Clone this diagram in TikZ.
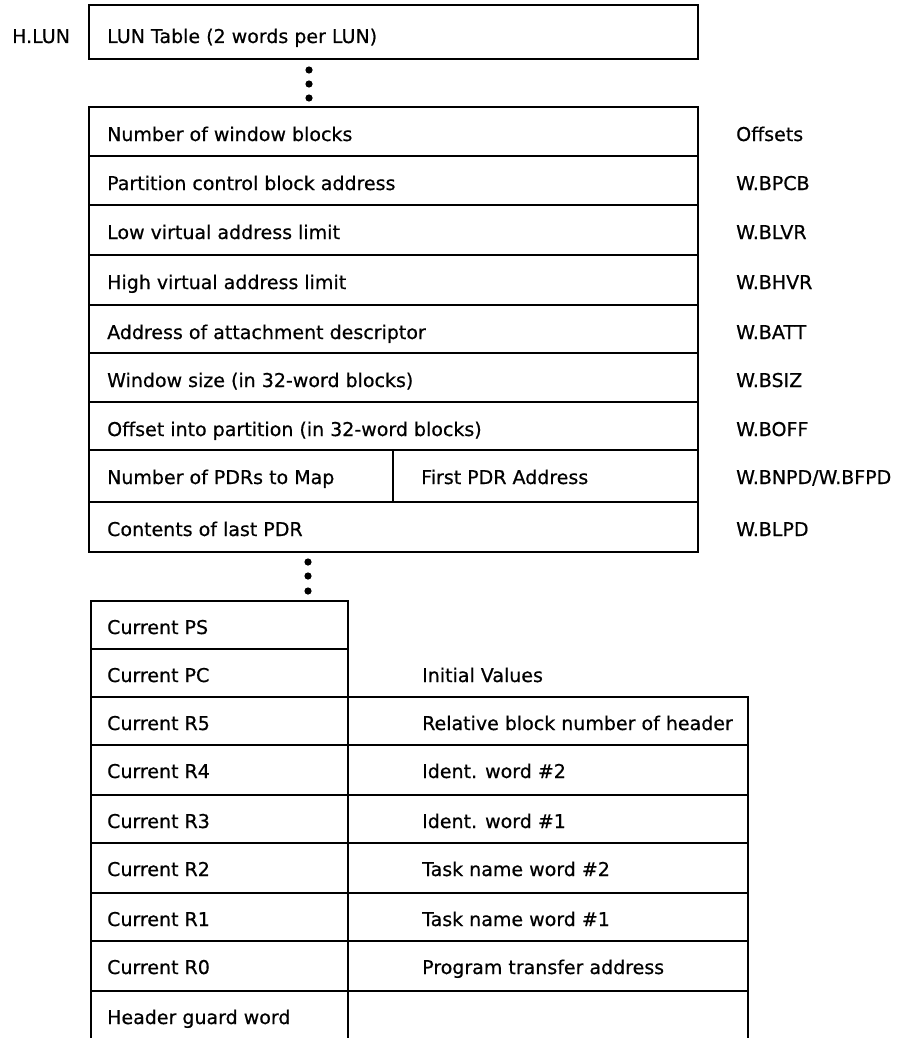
\documentclass[tikz,border=0pt]{standalone}
\usepackage{fontspec}
\setmainfont[FakeBold=0.6]{DejaVu Sans}
\begin{document}
\begin{tikzpicture}[x=1pt,y=-1pt,
  box/.style={line width=1.4pt, line join=miter},
  txt/.style={anchor=base west, inner sep=0pt, font=\fontsize{19}{22}\selectfont},
  dotmark/.style={fill=black, draw=none}]
\useasboundingbox (0,0) rectangle (909,1038);
% LUN table
\draw[box] (89,5) rectangle (698,59);
\node[txt] (hlun) at (12,43) {H.LUN};
\node[txt] (lun) at (107,43) {LUN Table (2 words per LUN)};
% dots
\foreach \yy in {70,84,98} \fill[dotmark] (309,\yy) circle (3.6pt);
% main window block
\draw[box] (89,107) rectangle (698,552);
\foreach \yy in {156,205,255,305,353,402,450,502} \draw[box] (89,\yy) -- (698,\yy);
\draw[box] (393,450) -- (393,502);
\foreach \yy/\t/\l [count=\i] in {
  107/{Number of window blocks}/{Offsets},
  156/{Partition control block address}/{W.BPCB},
  205/{Low virtual address limit}/{W.BLVR},
  255/{High virtual address limit}/{W.BHVR},
  305/{Address of attachment descriptor}/{W.BATT},
  353/{Window size (in 32-word blocks)}/{W.BSIZ},
  402/{Offset into partition (in 32-word blocks)}/{W.BOFF},
  450/{Number of PDRs to Map}/{W.BNPD/W.BFPD},
  502/{Contents of last PDR}/{W.BLPD}} {
  \node[txt] (row\i) at (107,\yy+34) {\t};
  \node[txt] (off\i) at (736,\yy+34) {\l};
}
\node[txt] (fpdr) at (421,484) {First PDR Address};
% dots
\foreach \yy in {562,576,591} \fill[dotmark] (308,\yy) circle (3.6pt);
% header block
\draw[box] (91,1038) -- (91,601) -- (348,601) -- (348,1038);
\draw[box] (91,649) -- (348,649);
\draw[box] (348,697) -- (748,697) -- (748,1038);
\foreach \yy in {697,745,795,843,893,941,991} \draw[box] (91,\yy) -- (748,\yy);
\node[txt] (init) at (422,682) {Initial Values};
\foreach \yy/\t/\v [count=\i] in {
  601/{Current PS}/{},
  649/{Current PC}/{},
  697/{Current R5}/{Relative block number of header},
  745/{Current R4}/{Ident. word \#2},
  795/{Current R3}/{Ident. word \#1},
  843/{Current R2}/{Task name word \#2},
  893/{Current R1}/{Task name word \#1},
  941/{Current R0}/{Program transfer address},
  991/{Header guard word}/{}} {
  \node[txt] (reg\i) at (107,\yy+33) {\t};
  \node[txt] (val\i) at (422,\yy+33) {\v};
}
\end{tikzpicture}
\end{document}
